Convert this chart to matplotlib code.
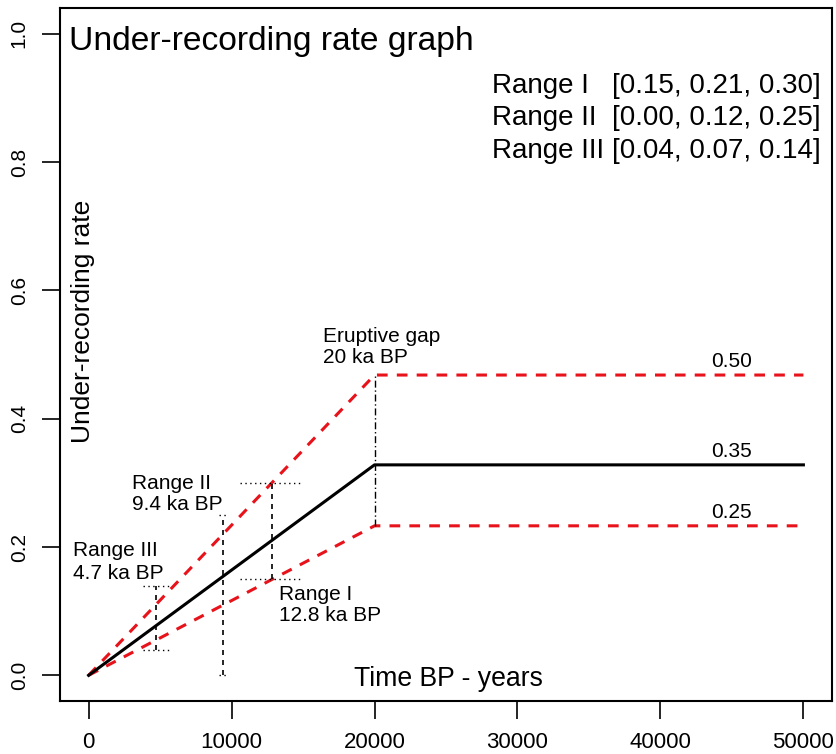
import matplotlib
matplotlib.use("Agg")
import matplotlib.pyplot as plt

plt.rcParams['font.family'] = ['Liberation Sans', 'DejaVu Sans']

# under-recording curves (knots in years BP)
time_knots = [0, 20000, 50000]
rate_mid = [0, 0.328, 0.328]
rate_hi = [0, 0.468, 0.468]
rate_lo = [0, 0.233, 0.233]
curve_labels = ['0.50', '0.35', '0.25']

# dated ranges
range_names = ['Range I', 'Range II', 'Range III']
range_time = [12800, 9400, 4700]
range_lo = [0.15, 0.00, 0.04]
range_hi = [0.30, 0.25, 0.14]
range_stats = [[0.15, 0.21, 0.30], [0.00, 0.12, 0.25], [0.04, 0.07, 0.14]]
range_halfwidth = [2200, 250, 900]

gap_time = 20000

x_ticks = [0, 10000, 20000, 30000, 40000, 50000]
y_ticks = [0.0, 0.2, 0.4, 0.6, 0.8, 1.0]

fig = plt.figure(figsize=(8.37, 7.54), dpi=100)
ax = fig.add_axes([60 / 837, 53 / 754, 772 / 837, 693 / 754])

red_dash = (0, (3.5, 3))
ax.plot(time_knots, rate_hi, color='#e8121b', lw=2.2, linestyle=red_dash)
ax.plot(time_knots, rate_lo, color='#e8121b', lw=2.2, linestyle=red_dash)
ax.plot(time_knots, rate_mid, color='black', lw=2.2)

# range bars
for t, lo, hi, hw in zip(range_time, range_lo, range_hi, range_halfwidth):
    ax.plot([t, t], [lo, hi], color='black', lw=1.2, linestyle=(0, (3, 3)))
    for v in (lo, hi):
        ax.plot([t - hw, t + hw], [v, v], color='black', lw=1.0,
                linestyle=(0, (1, 2.5)))

# eruptive gap
ax.plot([gap_time, gap_time], [rate_lo[1], rate_hi[1]], color='black', lw=1.0,
        linestyle=(0, (5, 2, 1, 2)))

# labels on the flat parts
for v, lab in zip([rate_hi[-1], rate_mid[-1], rate_lo[-1]], curve_labels):
    ax.text(45000, v + 0.006, lab, ha='center', va='bottom', fontsize=15)

ax.text(16400, 0.52, 'Eruptive gap', fontsize=15, va='baseline')
ax.text(16400, 0.486, '20 ka BP', fontsize=15, va='baseline')
ax.text(3070, 0.291, 'Range II', fontsize=15, va='baseline')
ax.text(3070, 0.257, '9.4 ka BP', fontsize=15, va='baseline')
ax.text(-1120, 0.186, 'Range III', fontsize=15, va='baseline')
ax.text(-1120, 0.150, '4.7 ka BP', fontsize=15, va='baseline')
ax.text(13340, 0.117, 'Range I', fontsize=15, va='baseline')
ax.text(13340, 0.085, '12.8 ka BP', fontsize=15, va='baseline')

ax.text(-1400, 0.988, 'Under-recording rate graph', fontsize=24.2, va='center')

for i, (name, st) in enumerate(zip(range_names, range_stats)):
    y = 0.908 - i * 0.051
    ax.text(28250, y, name, fontsize=20, va='baseline')
    ax.text(36600, y, '[' + ', '.join(f'{s:.2f}' for s in st) + ']',
            fontsize=20, va='baseline')

ax.text(25140, -0.016, 'Time BP - years', fontsize=19.2, ha='center', va='baseline')
ax.text(-360, 0.552, 'Under-recording rate', fontsize=19, rotation=90,
        ha='center', va='center')

ax.set_xlim(-2000, 52000)
ax.set_ylim(-0.04, 1.04)
ax.set_xticks(x_ticks)
ax.set_xticklabels([str(t) for t in x_ticks])
ax.set_yticks(y_ticks)
ax.set_yticklabels([f'{t:.1f}' for t in y_ticks])
ax.tick_params(axis='x', length=13, width=1.2, pad=9, labelsize=16)
ax.tick_params(axis='y', length=13, width=1.2, pad=9.5, labelsize=15, labelrotation=90)
for lab in ax.get_yticklabels():
    lab.set_va('center')
for s in ax.spines.values():
    s.set_linewidth(1.5)

fig.savefig('out.png', dpi=100)
